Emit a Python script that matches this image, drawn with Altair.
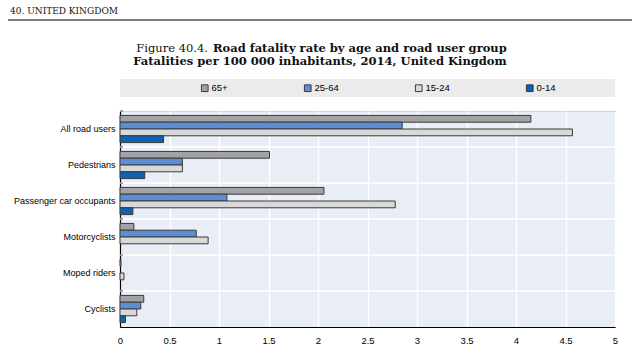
import altair as alt
import pandas as pd

categories = ["All road users", "Pedestrians", "Passenger car occupants",
              "Motorcyclists", "Moped riders", "Cyclists"]
age_groups = ["65+", "25-64", "15-24", "0-14"]
rate_65_plus = [4.15, 1.51, 2.06, 0.14, 0.01, 0.24]
rate_25_64 = [2.85, 0.63, 1.08, 0.77, 0.0, 0.21]
rate_15_24 = [4.57, 0.63, 2.78, 0.89, 0.04, 0.17]
rate_0_14 = [0.44, 0.25, 0.13, 0.0, 0.0, 0.055]
colors = ["#a2a2a4", "#5b8ed6", "#d9d9d9", "#0a64b4"]

series = [rate_65_plus, rate_25_64, rate_15_24, rate_0_14]
rows = []
for g, vals in zip(age_groups, series):
    for c, v in zip(categories, vals):
        rows.append({"category": c, "age": g, "value": v})
df = pd.DataFrame(rows)
cat_df = pd.DataFrame({"category": categories})

SANS = "Liberation Sans Narrow, Arial Narrow, Liberation Sans, Arial"
SERIF = "DejaVu Serif"

y_scale = alt.Scale(domain=categories, paddingInner=0, paddingOuter=0)
y_axis = alt.Axis(title=None, ticks=False, grid=False, domainColor="#000",
                  domainWidth=1.2, labelFont=SANS, labelFontSize=9,
                  labelColor="#000", labelPadding=5, labelLimit=200)

band = alt.Chart(pd.DataFrame({"a": [1]})).mark_rect(color="#ebebeb").encode(
    x=alt.value(0), x2=alt.value(495), y=alt.value(-32), y2=alt.value(-14)
)

hgrid = alt.Chart(cat_df).mark_rule(color="white", strokeWidth=1.5).encode(
    y=alt.Y("category:N", bandPosition=0, scale=y_scale, sort=categories, axis=y_axis)
)

bars = alt.Chart(df).transform_filter("datum.value > 0").mark_bar(
    stroke="#3a3a3a", strokeWidth=1).encode(
    x=alt.X("value:Q", scale=alt.Scale(domain=[0, 5], nice=False),
            axis=alt.Axis(values=[i * 0.5 for i in range(11)], format=".1~f",
                          title=None, grid=True, gridColor="white", gridWidth=1.5,
                          ticks=False, domainColor="#000", domainWidth=1.2,
                          labelFont=SANS, labelFontSize=9.5, labelColor="#000",
                          labelPadding=8, labelFlush=False)),
    y=alt.Y("category:N", scale=y_scale, sort=categories, axis=y_axis),
    yOffset=alt.YOffset("age:N", sort=age_groups,
                        scale=alt.Scale(domain=age_groups, paddingInner=0, paddingOuter=0.65)),
    color=alt.Color("age:N", sort=age_groups,
                    scale=alt.Scale(domain=age_groups, range=colors),
                    legend=alt.Legend(title=None, orient="none", legendX=80, legendY=-28,
                                      direction="horizontal", columns=4, columnPadding=74,
                                      symbolType="square", symbolSize=45,
                                      symbolStrokeColor="#3a3a3a", symbolStrokeWidth=1,
                                      symbolOffset=0, labelOffset=2,
                                      labelFont=SANS, labelFontSize=9.5, labelColor="#000",
                                      padding=0)),
)

ticks = alt.Chart(cat_df).mark_rule(color="#555", strokeWidth=1).encode(
    y=alt.Y("category:N", bandPosition=0, scale=y_scale, sort=categories, axis=y_axis),
    x=alt.value(0), x2=alt.value(3)
)

one = pd.DataFrame({"a": [1]})
header = alt.Chart(one).mark_text(text="40.   UNITED KINGDOM", font=SERIF, fontSize=9,
                                  align="left", baseline="alphabetic", color="#111").encode(
    x=alt.value(-110), y=alt.value(-97))
header_rule = alt.Chart(one).mark_rule(color="#000", strokeWidth=1.2).encode(
    x=alt.value(-112), x2=alt.value(512), y=alt.value(-91))
t1a = alt.Chart(one).mark_text(text="Figure 40.4.", font=SERIF, fontSize=11.5, fontWeight="normal",
                               align="right", baseline="alphabetic", color="#111").encode(
    x=alt.value(88), y=alt.value(-59))
t1b = alt.Chart(one).mark_text(text="Road fatality rate by age and road user group", font=SERIF,
                               fontSize=11.5, fontWeight="bold", align="left",
                               baseline="alphabetic", color="#111").encode(
    x=alt.value(93), y=alt.value(-59))
t2 = alt.Chart(one).mark_text(text="Fatalities per 100 000 inhabitants, 2014, United Kingdom",
                              font=SERIF, fontSize=11.5, fontWeight="bold", align="center",
                              baseline="alphabetic", color="#111").encode(
    x=alt.value(200), y=alt.value(-46))

chart = alt.layer(band, hgrid, bars, ticks, header, header_rule, t1a, t1b, t2).properties(
    width=495, height=216,
    autosize=alt.AutoSizeParams(type="none"),
    padding={"left": 120, "top": 111, "right": 17, "bottom": 30},
    background="white",
).configure_view(fill="#e9edf6", stroke="#555", strokeWidth=1)

chart.save("out.html", embed_options={"renderer": "svg", "actions": False})
